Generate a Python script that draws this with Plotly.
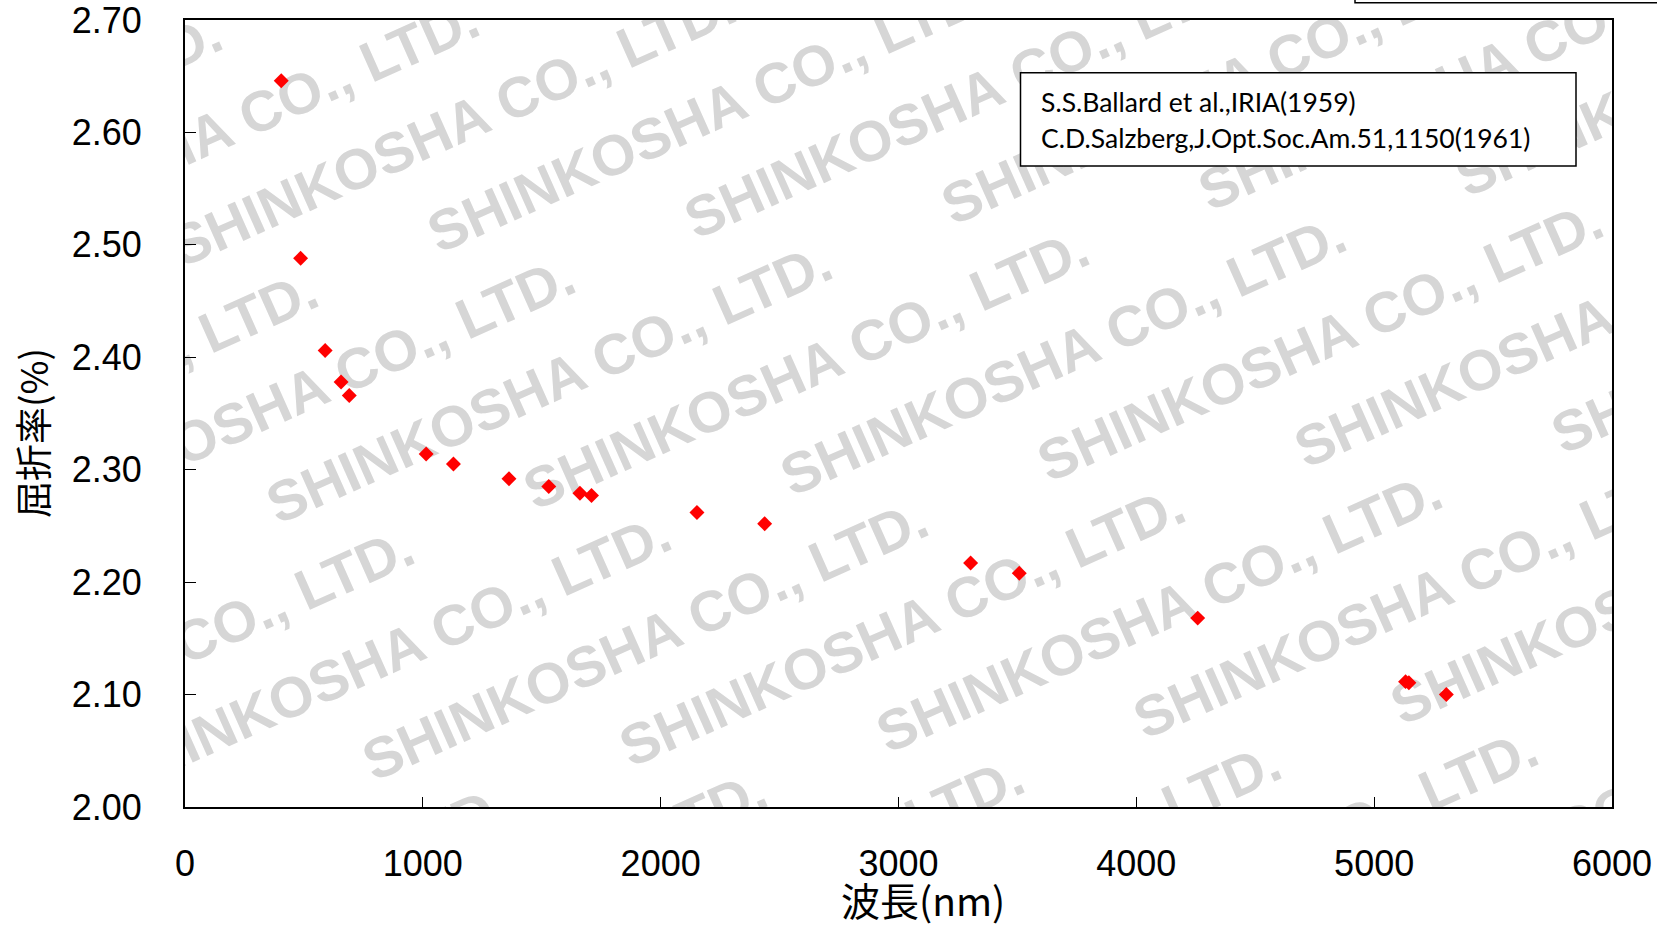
import math
import plotly.graph_objects as go

# ---------------- data ----------------
wavelength_nm = [404.7, 486.1, 589.3, 656.3, 690.7, 1014.0, 1128.7, 1362.2, 1529.5,
                 1660.6, 1709.2, 2152.6, 2437.3, 3303.3, 3507.8, 4258.0, 5132.0, 5146.0, 5303.4]
refractive_index = [2.646, 2.488, 2.406, 2.378, 2.366, 2.314, 2.305, 2.292, 2.285,
                    2.279, 2.277, 2.262, 2.252, 2.217, 2.208, 2.168, 2.1115, 2.1105, 2.100]
x_ticks = [0, 1000, 2000, 3000, 4000, 5000, 6000]
y_ticks = [2.00, 2.10, 2.20, 2.30, 2.40, 2.50, 2.60, 2.70]
x_title = "波長(nm)"
y_title = "屈折率(%)"
legend_lines = ["S.S.Ballard et al.,IRIA(1959)",
                "C.D.Salzberg,J.Opt.Soc.Am.51,1150(1961)"]
watermark_text = "SHINKOSHA CO., LTD."

# ---------------- geometry (page pixels) ----------------
W, H = 1657, 927
PLOT_L, PLOT_R, PLOT_T, PLOT_B = 185, 1612, 20, 807
ML, MT = PLOT_L, PLOT_T
MR, MB = W - PLOT_R, H - PLOT_B
PW = PLOT_R - PLOT_L
PH = PLOT_B - PLOT_T
X_RANGE = [0, 6000]
Y_RANGE = [2.0, 2.7]


def px_to_x(px):
    return X_RANGE[0] + (px - PLOT_L) / PW * (X_RANGE[1] - X_RANGE[0])


def py_to_y(py):
    return Y_RANGE[1] - (py - PLOT_T) / PH * (Y_RANGE[1] - Y_RANGE[0])


def px_to_paper(px):
    return (px - PLOT_L) / PW


def py_to_paper(py):
    return 1 - (py - PLOT_T) / PH


fig = go.Figure()

fig.add_trace(go.Scatter(
    x=wavelength_nm, y=refractive_index, mode="markers",
    marker=dict(symbol="diamond", size=11.5, color="#ff0000", line=dict(width=0)),
    showlegend=False, hoverinfo="x+y",
))

shapes = []

# ---------------- watermark (tiled, clipped to plot area) ----------------
wm_angle = 24.0
ux, uy = math.cos(math.radians(wm_angle)), -math.sin(math.radians(wm_angle))
wm_origin = (804.0, 364.0)
wm_a = (257.0, -14.0)
wm_b = (96.0, 257.0)
for i in range(-8, 9):
    for j in range(-5, 6):
        cx = wm_origin[0] + i * wm_a[0] + j * wm_b[0]
        cy = wm_origin[1] + i * wm_a[1] + j * wm_b[1]
        if not (PLOT_L - 330 < cx < PLOT_R + 330 and PLOT_T - 160 < cy < PLOT_B + 160):
            continue
        shapes.append(dict(
            type="line", xref="x", yref="y", layer="below",
            x0=px_to_x(cx - 5 * ux), y0=py_to_y(cy - 5 * uy),
            x1=px_to_x(cx + 5 * ux), y1=py_to_y(cy + 5 * uy),
            line=dict(width=0, color="rgba(0,0,0,0)"),
            label=dict(text="<b>" + watermark_text + "</b>",
                       font=dict(family="Liberation Sans, Arial", size=57, color="#d6d6d6"),
                       textangle=-wm_angle, textposition="middle",
                       xanchor="center", yanchor="middle", padding=0),
        ))

# legend-like reference box
shapes.append(dict(
    type="rect", xref="paper", yref="paper", layer="above",
    x0=px_to_paper(1020.5), x1=px_to_paper(1576),
    y0=py_to_paper(166), y1=py_to_paper(72.7),
    line=dict(color="black", width=1.5), fillcolor="white",
))
# partially visible box at the top edge
shapes.append(dict(
    type="rect", xref="paper", yref="paper", layer="above",
    x0=px_to_paper(1355), x1=px_to_paper(1662),
    y0=py_to_paper(2.7), y1=py_to_paper(-40),
    line=dict(color="black", width=1.5), fillcolor="rgba(0,0,0,0)",
))

annotations = []
for txt, ymid in zip(legend_lines, [102.5, 137.5]):
    annotations.append(dict(
        text=txt, xref="paper", yref="paper",
        x=px_to_paper(1039), y=py_to_paper(ymid),
        xanchor="left", yanchor="middle", showarrow=False,
        font=dict(family="Lato, Open Sans, sans-serif", size=26.5, color="black"),
    ))

# axis titles
annotations.append(dict(
    text=x_title, xref="paper", yref="paper",
    x=px_to_paper(923), y=py_to_paper(899),
    xanchor="center", yanchor="middle", showarrow=False,
    font=dict(family="Noto Sans CJK JP", size=39, color="black"),
))
annotations.append(dict(
    text=y_title, xref="paper", yref="paper",
    x=px_to_paper(32), y=py_to_paper(433),
    xanchor="center", yanchor="middle", showarrow=False, textangle=-90,
    font=dict(family="Noto Sans CJK JP", size=37, color="black"),
))

fig.update_layout(
    width=W, height=H, autosize=False,
    margin=dict(l=ML, r=MR, t=MT, b=MB, pad=0),
    paper_bgcolor="white", plot_bgcolor="white",
    shapes=shapes, annotations=annotations,
    xaxis=dict(
        range=X_RANGE, tickvals=x_ticks, ticktext=[str(v) for v in x_ticks],
        ticks="inside", ticklen=10, tickwidth=1.2, tickcolor="black",
        showline=True, linecolor="black", linewidth=2, mirror=True,
        showgrid=False, zeroline=False, automargin=False,
        tickfont=dict(family="Liberation Sans, Arial", size=36, color="black"),
        ticklabelstandoff=24, ticklabeloverflow="allow",
    ),
    yaxis=dict(
        range=[Y_RANGE[0] - 1e-6, Y_RANGE[1] + 1e-6],
        tickvals=y_ticks, ticktext=["%.2f" % v for v in y_ticks],
        ticks="inside", ticklen=11, tickwidth=1.2, tickcolor="black",
        showline=True, linecolor="black", linewidth=2, mirror=True,
        showgrid=False, zeroline=False, automargin=False,
        tickfont=dict(family="Liberation Sans, Arial", size=36, color="black"),
        ticklabelstandoff=34, ticklabeloverflow="allow",
    ),
)

fig.write_html(
    "out.html",
    config={"displayModeBar": False},
    post_script="document.body.style.margin='0';document.body.style.overflow='hidden';",
)
